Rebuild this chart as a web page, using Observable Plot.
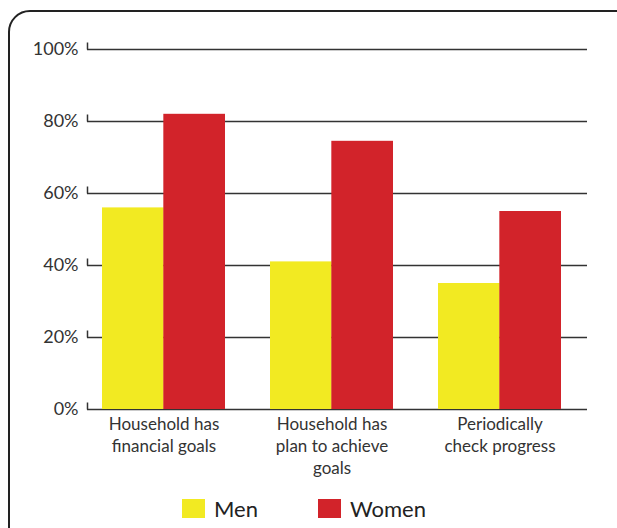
<!DOCTYPE html>
<html>
<head>
<meta charset="utf-8">
<script src="https://cdn.jsdelivr.net/npm/d3@7"></script>
<script src="https://cdn.jsdelivr.net/npm/@observablehq/plot@0.6"></script>
<style>
  html, body { margin: 0; padding: 0; background: #fff; overflow: hidden; }
  body { width: 617px; height: 528px; position: relative; font-family: Lato, "Open Sans", sans-serif; }
  #frame { position: absolute; left: 8px; top: 10px; width: 660px; height: 580px; border: 2px solid #222; border-radius: 22px; box-sizing: border-box; }
  #chart { position: absolute; left: 0; top: 0; }
  #legend { position: absolute; left: 0; top: 482px; width: 617px; height: 46px; }
  .item { position: absolute; top: 13px; display: flex; align-items: center; font-size: 22px; color: #222; }
  .sw { width: 23px; height: 19px; margin-right: 9px; }
</style>
</head>
<body>
<div id="frame"></div>
<div id="chart"></div>
<div id="legend"></div>
<script>
const categories = ["Household has\nfinancial goals", "Household has\nplan to achieve\ngoals", "Periodically\ncheck progress"];
const series = ["Men", "Women"];
const menValues = [56, 41, 35];
const womenValues = [82, 74.5, 55];
const colors = ["#F2EA22", "#D2232A"];
const yTicks = [0, 20, 40, 60, 80, 100];

const menData = categories.map((c, i) => ({category: c, series: "Men", value: menValues[i]}));
const womenData = categories.map((c, i) => ({category: c, series: "Women", value: womenValues[i]}));

const W = 617, H = 482, mL = 87, mR = 30;
const pInner = 0.27, pOuter = 0.123, align = 0.362;
const xScale = d3.scaleBand(categories, [mL, W - mR]).paddingInner(pInner).paddingOuter(pOuter).align(align);
const half = xScale.bandwidth() / 2;

const tickUp = { draw(ctx, size) { ctx.moveTo(0, 0); ctx.lineTo(0, -7); } };

const chart = Plot.plot({
  width: W,
  height: H,
  marginTop: 49,
  marginBottom: 73,
  marginLeft: mL,
  marginRight: mR,
  style: { fontFamily: "Lato, 'Open Sans', sans-serif", background: "transparent", color: "#222" },
  x: { domain: categories, paddingInner: pInner, paddingOuter: pOuter, align: align, axis: null },
  y: { domain: [0, 100], axis: null },
  color: { domain: series, range: colors },
  marks: [
    Plot.ruleY(yTicks, { stroke: "#333", strokeWidth: 1.5 }),
    Plot.dot(yTicks, { y: d => d, frameAnchor: "left", symbol: tickUp, stroke: "#333", strokeWidth: 1.5, r: 5 }),
    Plot.axisY(yTicks, { tickSize: 0, tickPadding: 9, tickFormat: d => d + "%", fontSize: 18, fill: "#333", label: null }),
    Plot.barY(menData, { x: "category", y: "value", fill: "series", insetRight: half }),
    Plot.barY(womenData, { x: "category", y: "value", fill: "series", insetLeft: half }),
    Plot.axisX({ tickSize: 0, tickPadding: 5, fontSize: 17, lineHeight: 1.3, fill: "#333", label: null })
  ]
});
document.getElementById("chart").appendChild(chart);

const legend = document.getElementById("legend");
const legendLeft = [182, 318];
series.forEach((s, i) => {
  const item = document.createElement("div");
  item.className = "item";
  item.style.left = legendLeft[i] + "px";
  const sw = document.createElement("span");
  sw.className = "sw";
  sw.style.background = colors[i];
  const t = document.createElement("span");
  t.textContent = s;
  item.appendChild(sw);
  item.appendChild(t);
  legend.appendChild(item);
});
</script>
</body>
</html>
